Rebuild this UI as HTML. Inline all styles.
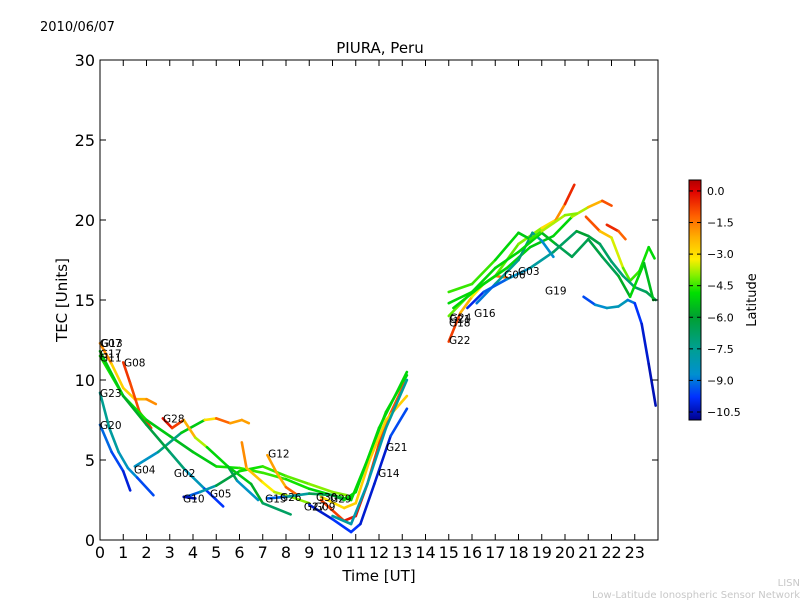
<!DOCTYPE html>
<html><head><meta charset="utf-8"><style>
html,body{margin:0;padding:0;background:#fff;}
svg{display:block;font-family:"DejaVu Sans","Liberation Sans",sans-serif;}
</style></head><body>
<svg id="chart" width="800" height="600" viewBox="0 0 800 600">
<defs>
<linearGradient id="jet" x1="0" y1="1" x2="0" y2="0">
<stop offset="0" stop-color="#00008f"/><stop offset="0.095" stop-color="#0030ff"/>
<stop offset="0.19" stop-color="#0090d0"/><stop offset="0.30" stop-color="#00a090"/>
<stop offset="0.43" stop-color="#00a030"/><stop offset="0.53" stop-color="#00e000"/>
<stop offset="0.60" stop-color="#80f000"/><stop offset="0.67" stop-color="#ffee00"/>
<stop offset="0.76" stop-color="#ffb000"/><stop offset="0.85" stop-color="#ff6000"/>
<stop offset="0.955" stop-color="#e00000"/><stop offset="1" stop-color="#b00000"/></linearGradient>
</defs>
<text x="40" y="31" font-size="13">2010/06/07</text>
<text x="380" y="53" font-size="15" text-anchor="middle">PIURA, Peru</text>
<g id="marks"></g>
<g id="labels"></g>
<rect x="100" y="60" width="558" height="480" fill="none" stroke="#000" stroke-width="1"/>
<g id="xaxis"></g>
<g id="yaxis"></g>
<text x="379" y="581" font-size="15" text-anchor="middle">Time [UT]</text>
<text x="67" y="300" font-size="15" text-anchor="middle" transform="rotate(-90 67 300)">TEC [Units]</text>
<rect x="689" y="180" width="12" height="240" fill="url(#jet)" stroke="#000" stroke-width="1"/>
<g id="cbar"></g>
<text x="756" y="300" font-size="13" text-anchor="middle" transform="rotate(-90 756 300)">Latitude</text>
<text x="800" y="586" font-size="10" fill="#c8c8c8" text-anchor="end">LISN</text>
<text x="800" y="598" font-size="10" fill="#c8c8c8" text-anchor="end">Low-Latitude Ionospheric Sensor Network</text>
</svg>
<script>
const xTicks=[0,1,2,3,4,5,6,7,8,9,10,11,12,13,14,15,16,17,18,19,20,21,22,23];
const yTicks=[0,5,10,15,20,25,30];
const cTicks=[0.0,-1.5,-3.0,-4.5,-6.0,-7.5,-9.0,-10.5];
const trackNames=["G13","G08","G11","G23","G20","G04","G28","G02","G05","G12","G07","G17","G15","G10","D1","D2","D3","D4","D5","E1","E2","E3","E4","E5","E6","E7","E8","E9","E10"];
const trackT=[
[0,0.5,1,1.5,2,2.4],
[1,1.3,1.7,2.2],
[0,1,2,3,4,5,6,7,8,9,10,10.8,11.5,12.3,13.2],
[0,0.4,0.8,1.2,1.6,2.3],
[0,0.5,1,1.3],
[1.5,2.5,3.5,4.5,5,5.6,6.1,6.4],
[2.7,3.1,3.6,4.1,4.6,5.5,5.9,6.8],
[0,1,2,3,3.65,4.5,5.3],
[3.7,4.3,5,6,7,8,9,10,10.6],
[7.2,7.6,8,8.5],
[6.1,6.3,7,7.5,8.2,9],
[5.5,6.5,7,8.2],
[7.2,8,9,10,10.5],
[3.6,4.1],
[9,10,10.8,11.2,11.8,12.5,13.2],
[9.5,10.5,11,11.5,12.2,13.1],
[9.5,10.5,11,11.6,12.3,13.2],
[10.5,11,12,13.2],
[10,10.8,11.5,12.3,13.2],
[15,15.5,16,16.5,17,17.5],
[15,16,17,18,19,19.6,20,20.4],
[15.2,16.5,17.5,18.5,19.5,20.3,21,21.6,22],
[20.9,21.5,22,22.5,22.8,23.2,23.6,23.85],
[16.2,17,18,18.6,19,19.5],
[15.8,16.5,17.5,18.5,19.5,20.5,21,21.5,22,22.5,23,23.5,23.9],
[20.8,21.3,21.8,22.3,22.7,23,23.3,23.6,23.9],
[15,16,17,18,19,19.6,20.3,21,21.6,22.3,22.8,23.4,23.8],
[15,16,17,18,18.5,19,19.5,20,20.5],
[21.8,22.3,22.6]];
const trackV=[
[12.3,11,9.5,8.8,8.8,8.5],
[11.1,9.8,8,7.0],
[11.5,9,7.5,6.5,5.5,4.6,4.5,4.2,3.8,3.2,2.8,2.5,5,8,10.3],
[9.2,7,5.5,4.5,3.9,2.8],
[7.2,5.5,4.3,3.1],
[4.6,5.5,6.7,7.5,7.6,7.3,7.5,7.3],
[7.6,7.0,7.5,6.4,5.8,4.6,3.7,2.5],
[11.8,9,7.2,5.5,4.4,3.2,2.1],
[2.7,3.0,3.4,4.3,4.6,4.0,3.5,3.0,2.8],
[5.3,4.2,3.3,2.8],
[6.1,4.5,3.6,3.0,2.7,2.3],
[4.6,3.5,2.3,1.6],
[2.6,2.7,2.9,2.8,2.5],
[2.7,2.6],
[2.2,1.3,0.5,1,3.5,6.5,8.2],
[2.5,1.2,1.5,3.5,7,9.8],
[2.7,2,2.3,5,7.5,9],
[2.5,3,7,10.5],
[1.5,1,3.5,7,10],
[12.4,14.2,15.2,16,16.5,16.4],
[14,15.5,16.5,18.5,19.5,20,21,22.2],
[14.5,16,17,18.3,19,20.2,20.8,21.2,20.9],
[20.2,19.3,18.9,17,16.2,16.8,18.3,17.6],
[14.8,16,17.5,19.2,18.7,17.7],
[14.5,15.5,16.3,17,18,19.3,19,18.5,17.4,16.5,15.8,15.5,15],
[15.2,14.7,14.5,14.6,15,14.8,13.5,11,8.4],
[14.8,15.5,17,18,19.2,18.5,17.7,18.8,17.7,16.5,15.2,17.3,15],
[15.5,16,17.5,19.2,18.8,19.3,19.8,20.3,20.4],
[19.7,19.3,18.8]];
const trackLat=[
[-1,-2.5,-3,-2.5,-2,-1.5],
[-0.5,-0.8,-1,-0.5],
[-5,-4.5,-5,-5.5,-5.5,-5,-4.5,-4.5,-4.5,-5,-5,-5,-5,-5,-5],
[-7.5,-7.5,-8,-8.5,-9,-10],
[-9,-9.3,-9.8,-10.5],
[-9,-8,-6.5,-4,-2,-0.5,-3.5,-0.5],
[-0.5,0,-1.5,-3,-4.5,-5.5,-7.5,-9.5],
[-5,-5.5,-6,-6.5,-7.5,-9,-10.5],
[-10,-8.5,-7.5,-5,-4.5,-4.5,-4,-4,-4],
[-1.5,-2.5,-2,-0.5],
[-1.5,-2,-3,-3.5,-4,-4],
[-5,-5.5,-6,-7.5],
[-10,-8.5,-7,-6,-6],
[-10.5,-10.5],
[-10.5,-10,-9.5,-10,-10.5,-10,-9],
[-1,-0.5,0,-0.5,-1,-1],
[-3,-3,-2.5,-3,-2.5,-3],
[-5,-5,-5,-5],
[-7.5,-8,-8,-8,-7.5],
[0,-1.5,-3,-3.5,-2,-1],
[-4.5,-4,-4,-4.5,-3.5,-2.5,-1,0],
[-5,-5,-5,-5,-5.5,-4.5,-3,-1.5,-0.5],
[0,-2,-3,-4,-4.5,-4.5,-5,-5],
[-10,-8,-7,-7,-8,-9.5],
[-10.5,-9.5,-9,-8,-7.5,-6,-6,-6.5,-7,-7,-7,-6.5,-6.5],
[-10,-9,-8.5,-8,-8.5,-9.5,-10,-10.5,-10.5],
[-5,-5,-5,-5,-5,-6,-7,-6,-6.5,-6.5,-5,-5,-6],
[-4.5,-4.5,-4.5,-5.5,-5,-4,-3.5,-4,-4],
[0,-1,-1.5]];
const labelText=["G07","G13","G17","G11","G08","G23","G28","G20","G04","G02","G10","G05","G12","G15","G26","G30","G29","G27","G09","G21","G14","G21","G24","G18","G22","G16","G06","G03","G19"];
const labelT=[0,0.05,0,0,1.03,0,2.71,0,1.46,3.18,3.57,4.73,7.23,7.1,7.74,9.29,9.89,8.77,9.2,12.3,11.96,15.01,15.05,15.01,15.01,16.09,17.38,17.98,19.14];
const labelV=[12.3,12.3,11.65,11.4,11.1,9.2,7.6,7.2,4.4,4.2,2.6,2.9,5.4,2.6,2.7,2.7,2.6,2.1,2.1,5.8,4.2,13.8,13.9,13.6,12.5,14.2,16.6,16.8,15.6];
const X0=100,X1=658,Y0=540,Y1=60;
const xs=t=>X0+t/24*(X1-X0);
const ys=v=>Y0-v/30*(Y0-Y1);
const cs=l=>420-(l+10.88)/(0.52+10.88)*240;
const CM=[[0,0,0,143],[0.095,0,48,255],[0.19,0,144,208],[0.30,0,160,144],[0.43,0,160,48],[0.53,0,224,0],[0.60,128,240,0],[0.67,255,238,0],[0.76,255,176,0],[0.85,255,96,0],[0.955,224,0,0],[1,176,0,0]];
function jet(l){let f=(l+10.88)/11.4;f=Math.max(0,Math.min(1,f));
for(let i=0;i<CM.length-1;i++){const a=CM[i],b=CM[i+1];if(f<=b[0]){const u=(f-a[0])/(b[0]-a[0]);
return `rgb(${Math.round(a[1]+u*(b[1]-a[1]))},${Math.round(a[2]+u*(b[2]-a[2]))},${Math.round(a[3]+u*(b[3]-a[3]))})`;}}
return 'rgb(176,0,0)';}
const NS="http://www.w3.org/2000/svg";
function mk(tag,attrs,parent){const e=document.createElementNS(NS,tag);for(const k in attrs)e.setAttribute(k,attrs[k]);parent.appendChild(e);return e;}
const marks=document.getElementById('marks');
trackT.forEach((ts,i)=>{
  const g=mk('g',{},marks);
  
  
  for(let j=0;j<ts.length-1;j++){
    const l=(trackLat[i][j]+trackLat[i][j+1])/2;
    const s=mk('line',{x1:xs(ts[j]),y1:ys(trackV[i][j]),x2:xs(ts[j+1]),y2:ys(trackV[i][j+1]),stroke:jet(l),'stroke-width':2.6,'stroke-linecap':'round'},g);
    
    
  }
});
const lab=document.getElementById('labels');
labelText.forEach((t,i)=>{
  const e=mk('text',{x:xs(labelT[i]),y:ys(labelV[i])+4,'font-size':10.5},lab);
  e.textContent=t;
  
  
});
const xa=document.getElementById('xaxis');
xTicks.forEach(t=>{
  const x=xs(t);
  const a=mk('line',{x1:x,y1:540,x2:x,y2:534,stroke:'#000'},xa);
  
  
  mk('line',{x1:x,y1:60,x2:x,y2:66,stroke:'#000'},xa);
  const e=mk('text',{x:x,y:558,'font-size':16,'text-anchor':'middle'},xa);
  e.textContent=t;
  
  
});
const ya=document.getElementById('yaxis');
yTicks.forEach(v=>{
  const y=ys(v);
  const a=mk('line',{x1:100,y1:y,x2:106,y2:y,stroke:'#000'},ya);
  
  
  mk('line',{x1:652,y1:y,x2:658,y2:y,stroke:'#000'},ya);
  const e=mk('text',{x:95,y:y+6,'font-size':16,'text-anchor':'end'},ya);
  e.textContent=v;
  
  
});
const cb=document.getElementById('cbar');
cTicks.forEach(l=>{
  const y=cs(l);
  mk('line',{x1:689,y1:y,x2:693,y2:y,stroke:'#000'},cb);
  mk('line',{x1:697,y1:y,x2:701,y2:y,stroke:'#000'},cb);
  const e=mk('text',{x:707,y:y+4,'font-size':11},cb);
  e.textContent=(l===0?'0.0':'\u2212'+Math.abs(l).toFixed(1));
  
  
});
</script>
</body></html>
